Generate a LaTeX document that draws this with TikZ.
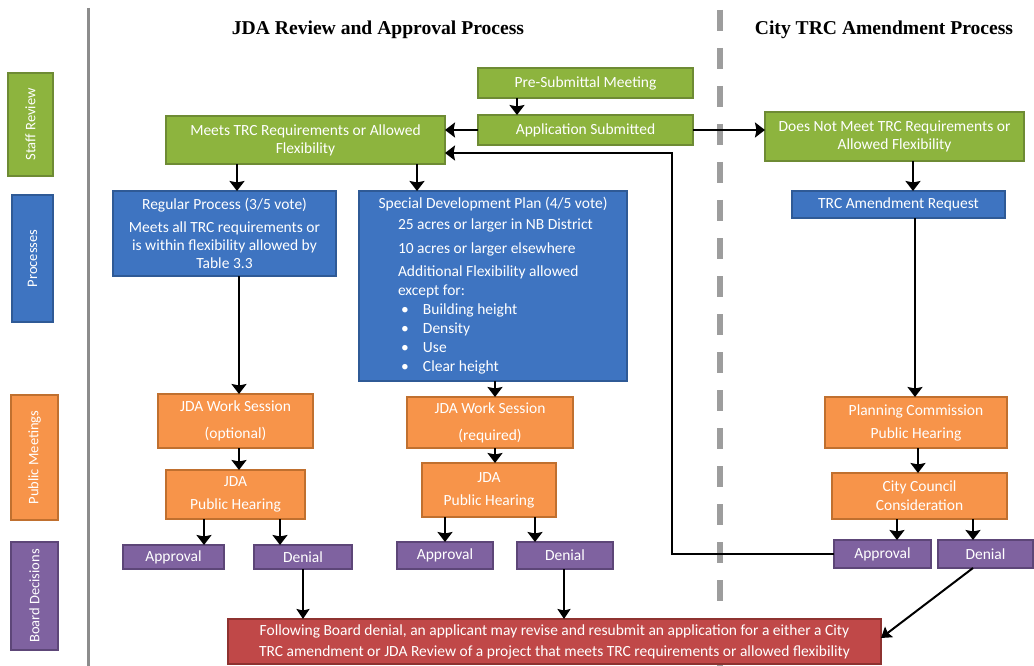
\documentclass[tikz,border=0pt]{standalone}
\usepackage{fontspec}
\setmainfont{Carlito}
\newfontfamily\titlefont{Liberation Serif}
\usetikzlibrary{arrows.meta}
\definecolor{gfill}{HTML}{8DB43E}
\definecolor{gdraw}{HTML}{6E8B34}
\definecolor{bfill}{HTML}{3E74C1}
\definecolor{bdraw}{HTML}{2F5A96}
\definecolor{ofill}{HTML}{F7944A}
\definecolor{odraw}{HTML}{C0702F}
\definecolor{pfill}{HTML}{7F62A0}
\definecolor{pdraw}{HTML}{5D4678}
\definecolor{rfill}{HTML}{C04848}
\definecolor{rdraw}{HTML}{8E3230}
\definecolor{sep}{HTML}{8C8C8C}
\newcommand\lline[1]{\makebox[190pt][l]{#1}}
\newcommand\bline[1]{\makebox[190pt][l]{\hspace*{3pt}\makebox[22pt][l]{\textbullet}#1}}
\begin{document}
\begin{tikzpicture}[x=1pt,y=-1pt,
  box/.style={anchor=north west, inner sep=0pt, outer sep=0pt, line width=1.6pt,
    text=white, align=center, font=\fontsize{15.5}{20}\selectfont},
  gbox/.style={box, fill=gfill, draw=gdraw},
  bbox/.style={box, fill=bfill, draw=bdraw},
  obox/.style={box, fill=ofill, draw=odraw},
  pbox/.style={box, fill=pfill, draw=pdraw},
  rbox/.style={box, fill=rfill, draw=rdraw},
  arr/.style={line width=2.8pt, -{Stealth[length=10pt,width=15pt,inset=1.5pt]}},
  thinarr/.style={line width=2pt, -{Stealth[length=10pt,width=13pt,inset=1.5pt]}},
  conn/.style={line width=2.3pt, -{Stealth[length=10pt,width=15pt,inset=1.5pt]}},
  ttl/.style={font=\titlefont\bfseries\fontsize{19.6}{22}\selectfont, inner sep=0pt}]
\useasboundingbox (0,0) rectangle (1034,666);
\fill[white] (0,0) rectangle (1034,666);

% separators
\draw[line width=3pt, sep] (88,8) -- (88,666);
\draw[line width=6pt, sep!85, dash pattern=on 21pt off 17pt] (720,10) -- (720,666);

% titles
\node[ttl] (t1) at (378,30) {JDA Review and Approval Process};
\node[ttl] (t2) at (884,30) {City TRC Amendment Process};

% sidebar
\node[gbox, minimum width=45pt, minimum height=103pt, font=\fontsize{14.5}{18}\selectfont] (sr) at (8,73) {\rotatebox{90}{Staff Review}};
\node[bbox, minimum width=41pt, minimum height=127pt, font=\fontsize{14.5}{18}\selectfont] (pr) at (12,195) {\rotatebox{90}{Processes}};
\node[obox, minimum width=47pt, minimum height=125pt, font=\fontsize{14.5}{18}\selectfont] (pm) at (11,395) {\rotatebox{90}{Public Meetings}};
\node[pbox, minimum width=47pt, minimum height=108pt, font=\fontsize{14.5}{18}\selectfont] (bd) at (11,542) {\rotatebox{90}{Board Decisions}};

% staff review
\node[gbox, minimum width=215pt, minimum height=30pt] (pre) at (478,68) {Pre-Submittal Meeting};
\node[gbox, minimum width=215pt, minimum height=30pt] (app) at (478,115) {Application Submitted};
\node[gbox, minimum width=279pt, minimum height=48pt, font=\fontsize{15.5}{18}\selectfont] (meets) at (166,116) {Meets TRC Requirements or Allowed\\Flexibility};
\node[gbox, minimum width=259pt, minimum height=49pt, font=\fontsize{15.5}{18}\selectfont] (dnm) at (765,112) {Does Not Meet TRC Requirements or\\Allowed Flexibility};

% processes
\node[bbox, minimum width=223pt, minimum height=85pt, font=\fontsize{15.5}{18}\selectfont] (reg) at (113,191)
  {Regular Process (3/5 vote)\\[5pt]Meets all TRC requirements or\\is within flexibility allowed by\\Table 3.3};
\node[bbox, minimum width=268pt, minimum height=190pt, font=\fontsize{15.5}{19}\selectfont] (sdp) at (359,191)
  {Special Development Plan (4/5 vote)\\[2pt]
   \lline{25 acres or larger in NB District}\\[5pt]
   \lline{10 acres or larger elsewhere}\\[4pt]
   \lline{Additional Flexibility allowed}\\
   \lline{except for:}\\
   \bline{Building height}\\
   \bline{Density}\\
   \bline{Use}\\
   \bline{Clear height}};
\node[bbox, minimum width=213pt, minimum height=27pt] (tar) at (792,191) {TRC Amendment Request};

% public meetings
\node[obox, minimum width=155pt, minimum height=54pt, font=\fontsize{15.5}{27}\selectfont] (ws1) at (158,394) {JDA Work Session\\(optional)};
\node[obox, minimum width=139pt, minimum height=49pt, font=\fontsize{15.5}{23}\selectfont] (ph1) at (166,470) {JDA\\Public Hearing};
\node[obox, minimum width=166pt, minimum height=51pt, font=\fontsize{15.5}{27}\selectfont] (ws2) at (407,397) {JDA Work Session\\(required)};
\node[obox, minimum width=134pt, minimum height=54pt, font=\fontsize{15.5}{23}\selectfont] (ph2) at (422,463) {JDA\\Public Hearing};
\node[obox, minimum width=182pt, minimum height=51pt, font=\fontsize{15.5}{23}\selectfont] (pc) at (825,397) {Planning Commission\\Public Hearing};
\node[obox, minimum width=175pt, minimum height=46pt, font=\fontsize{15.5}{19}\selectfont] (cc) at (832,473) {City Council\\Consideration};

% board decisions
\node[pbox, minimum width=101pt, minimum height=24pt] (ap1) at (123,545) {Approval};
\node[pbox, minimum width=98pt, minimum height=24pt] (dn1) at (254,545) {Denial};
\node[pbox, minimum width=96pt, minimum height=27pt] (ap2) at (397,542) {Approval};
\node[pbox, minimum width=96pt, minimum height=27pt] (dn2) at (517,542) {Denial};
\node[pbox, minimum width=97pt, minimum height=28pt] (ap3) at (834,540) {Approval};
\node[pbox, minimum width=95pt, minimum height=28pt] (dn3) at (938,540) {Denial};

% red box
\node[rbox, minimum width=653pt, minimum height=45pt, font=\fontsize{15.5}{21}\selectfont] (red) at (228,619)
  {Following Board denial, an applicant may revise and resubmit an application for a either a City\\TRC amendment or JDA Review of a project that meets TRC requirements or allowed flexibility};

% connectors
\draw[arr] (pre.south -| 517,0) -- (app.north -| 517,0);
\draw[arr] (app.west) -- (meets.east |- app.west);
\draw[arr] (app.east) -- (dnm.west |- app.east);
\draw[arr] (meets.south -| 237,0) -- (reg.north -| 237,0);
\draw[arr] (meets.south -| 417,0) -- (sdp.north -| 417,0);
\draw[arr] (dnm.south -| 913,0) -- (tar.north -| 913,0);

\draw[arr] (reg.south -| 239,0) -- (ws1.north -| 239,0);
\draw[arr] (ws1.south -| 239,0) -- (ph1.north -| 239,0);
\draw[arr] (ph1.south -| 204,0) -- (ap1.north -| 204,0);
\draw[arr] (ph1.south -| 280,0) -- (dn1.north -| 280,0);

\draw[arr] (sdp.south -| 495,0) -- (ws2.north -| 495,0);
\draw[arr] (ws2.south -| 495,0) -- (ph2.north -| 495,0);
\draw[arr] (ph2.south -| 445,0) -- (ap2.north -| 445,0);
\draw[arr] (ph2.south -| 535,0) -- (dn2.north -| 535,0);

\draw[arr] (tar.south -| 915,0) -- (pc.north -| 915,0);
\draw[arr] (pc.south -| 918,0) -- (cc.north -| 918,0);
\draw[arr] (cc.south -| 897,0) -- (ap3.north -| 897,0);
\draw[arr] (cc.south -| 973,0) -- (dn3.north -| 973,0);

\draw[conn] (ap3.west) -| (672,153) -- (meets.east |- 0,153);

\draw[thinarr] (dn1.south -| 303,0) -- (red.north -| 303,0);
\draw[thinarr] (dn2.south -| 564,0) -- (red.north -| 564,0);
\draw[thinarr] (dn3.south -| 973,0) -- (red.east |- 0,638);
\end{tikzpicture}
\end{document}
